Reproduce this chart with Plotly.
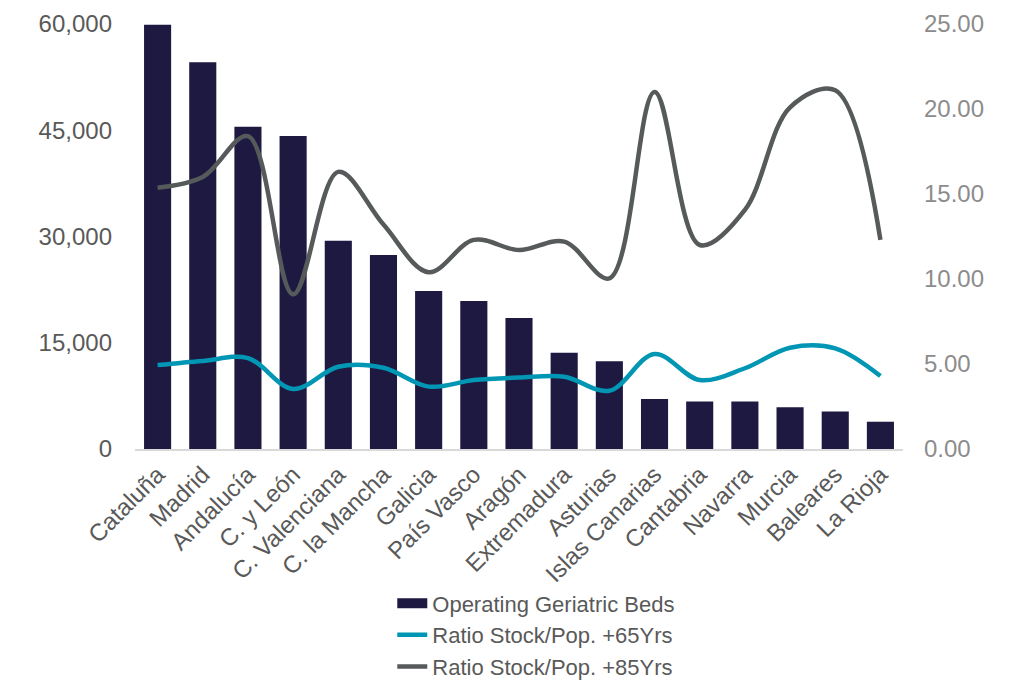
import plotly.graph_objects as go

regions = ["Cataluña", "Madrid", "Andalucía", "C. y León", "C. Valenciana",
           "C. la Mancha", "Galicia", "País Vasco", "Aragón", "Extremadura",
           "Asturias", "Islas Canarias", "Cantabria", "Navarra", "Murcia",
           "Baleares", "La Rioja"]
beds = [59900, 54600, 45500, 44200, 29400, 27400, 22300, 20900, 18500,
        13600, 12400, 7050, 6700, 6700, 5900, 5300, 3850]
ratio_65 = [4.94, 5.18, 5.35, 3.53, 4.84, 4.78, 3.67, 4.06, 4.20, 4.25,
            3.43, 5.59, 4.06, 4.75, 5.96, 5.92, 4.29]
ratio_85 = [15.37, 16.0, 18.4, 9.1, 16.3, 13.2, 10.4, 12.3, 11.7, 12.2,
            10.04, 21.0, 12.0, 14.06, 20.1, 21.1, 12.3]

left_ticks = [0, 15000, 30000, 45000, 60000]
right_ticks = [0, 5, 10, 15, 20, 25]

NAVY = "#1e1941"
TEAL = "#0096b4"
GREY = "#565a5b"
FONT = "Liberation Sans, Arial, sans-serif"

fig = go.Figure()
fig.add_trace(go.Bar(
    x=regions, y=beds, name="Operating Geriatric Beds",
    marker=dict(color=NAVY, line=dict(width=0)), showlegend=False,
))
# wide block swatch for the bar series in the legend
fig.add_trace(go.Scatter(
    x=[None], y=[None], name="Operating Geriatric Beds", mode="lines",
    line=dict(color=NAVY, width=13), legendrank=1,
))
fig.add_trace(go.Scatter(
    x=regions, y=ratio_65, name="Ratio Stock/Pop. +65Yrs", yaxis="y2",
    mode="lines", line=dict(color=TEAL, width=4.5, shape="spline", smoothing=1.0),
    legendrank=2,
))
fig.add_trace(go.Scatter(
    x=regions, y=ratio_85, name="Ratio Stock/Pop. +85Yrs", yaxis="y2",
    mode="lines", line=dict(color=GREY, width=4.5, shape="spline", smoothing=1.0),
    legendrank=3,
))

fig.update_layout(
    width=1009, height=683,
    margin=dict(l=135, r=106, t=24, b=234, autoexpand=False),
    paper_bgcolor="white", plot_bgcolor="white",
    font=dict(family=FONT, size=24, color="#595959"),
    bargap=0.4,
    showlegend=True,
    legend=dict(
        orientation="v", x=0.335, xanchor="left", y=-0.314, yanchor="top",
        font=dict(size=22, color="#595959"), tracegroupgap=0,
    ),
    xaxis=dict(
        tickangle=-45, showgrid=False, showline=True, linecolor="#d9d9d9",
        linewidth=2, ticks="", tickfont=dict(size=24, color="#595959"),
        automargin=False,
    ),
    yaxis=dict(
        range=[0, 60000], tickvals=left_ticks, tickformat=",",
        showgrid=False, zeroline=False, showline=False, ticks="",
        tickfont=dict(size=24, color="#595959"), ticklabelstandoff=22,
        automargin=False,
    ),
    yaxis2=dict(
        range=[0, 25], tickvals=right_ticks, tickformat=".2f",
        overlaying="y", side="right", showgrid=False, zeroline=False,
        showline=False, ticks="", tickfont=dict(size=24, color="#8c8c8c"),
        ticklabelstandoff=20, automargin=False,
    ),
)

fig.write_html("out.html")
